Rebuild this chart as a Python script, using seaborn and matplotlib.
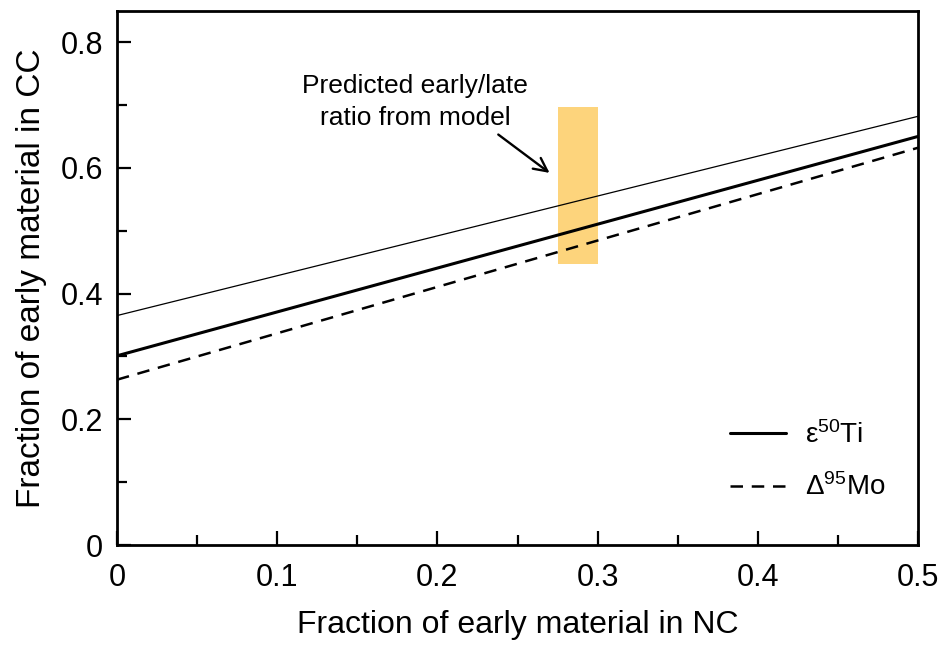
import matplotlib
matplotlib.use("Agg")
import matplotlib.pyplot as plt
import seaborn as sns
import numpy as np
import pandas as pd
from matplotlib.ticker import MultipleLocator, FuncFormatter

sns.set_theme(style="ticks")
plt.rcParams['font.family'] = ['Liberation Sans', 'DejaVu Sans']
plt.rcParams['text.color'] = 'black'
plt.rcParams['axes.labelcolor'] = 'black'
plt.rcParams['xtick.color'] = 'black'
plt.rcParams['ytick.color'] = 'black'

x_nc = [0.0, 0.5]
y_thin = [0.365, 0.682]
y_ti = [0.301, 0.650]
y_mo = [0.263, 0.632]
band_x = [0.275, 0.30]
band_y = [0.447, 0.697]

fig = plt.figure(figsize=(9.41, 6.45), dpi=100)
ax = fig.add_axes([0.1243, 0.155, 0.8513, 0.8284])

ax.fill_between(band_x, band_y[0], band_y[1], color="#FDD47C", linewidth=0, zorder=1)

sns.lineplot(x=x_nc, y=y_thin, ax=ax, color="black", linewidth=0.9, zorder=3)
sns.lineplot(x=x_nc, y=y_ti, ax=ax, color="black", linewidth=2.2, label=r"$\mathregular{\varepsilon^{50}Ti}$", zorder=3)
sns.lineplot(x=x_nc, y=y_mo, ax=ax, color="black", linewidth=1.8, label=r"$\mathregular{\Delta^{95}Mo}$", zorder=3)
ax.lines[-1].set_dashes([5, 3.5])

ax.set_xlim(0, 0.5)
ax.set_ylim(0, 0.85)
ax.xaxis.set_major_locator(MultipleLocator(0.1))
ax.xaxis.set_minor_locator(MultipleLocator(0.05))
ax.yaxis.set_major_locator(MultipleLocator(0.2))
ax.yaxis.set_minor_locator(MultipleLocator(0.1))
fmt = FuncFormatter(lambda v, p: "0" if abs(v) < 1e-9 else f"{v:g}")
ax.xaxis.set_major_formatter(fmt)
ax.yaxis.set_major_formatter(fmt)
ax.tick_params(which="both", direction="in", width=1.6, labelsize=22, top=False, right=False)
ax.tick_params(which="major", length=10)
ax.tick_params(which="minor", length=7)
ax.tick_params(axis="x", pad=13)
ax.tick_params(axis="y", pad=10)
for s in ax.spines.values():
    s.set_linewidth(2)
    s.set_color("black")

ax.set_xlabel("Fraction of early material in NC", fontsize=23, labelpad=12)
ax.set_ylabel("Fraction of early material in CC", fontsize=24, labelpad=10)

ax.text(0.186, 0.705, "Predicted early/late\nratio from model", ha="center", va="center",
        fontsize=19, linespacing=1.4)
ax.annotate("", xy=(0.270, 0.592), xytext=(0.238, 0.653),
            arrowprops=dict(arrowstyle="->,head_length=0.8,head_width=0.4", color="black", lw=1.7,
                            shrinkA=0, shrinkB=0))

leg = ax.legend(loc="lower right", frameon=False, fontsize=20, handlelength=2.05,
                bbox_to_anchor=(0.99, 0.035), labelspacing=0.9, handletextpad=0.65)

fig.savefig("out.png", dpi=100, facecolor="white")
